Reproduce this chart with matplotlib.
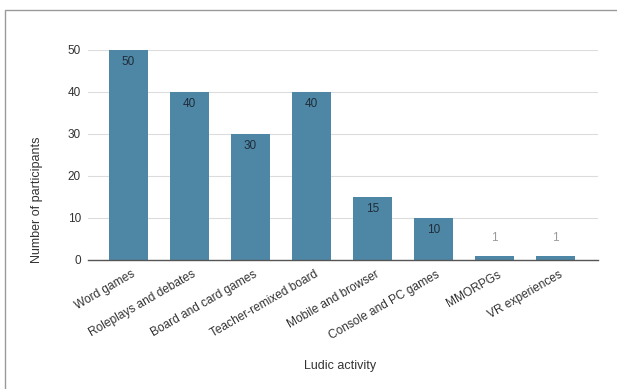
import matplotlib
matplotlib.use("Agg")
from matplotlib import pyplot as plt
from matplotlib.patches import Rectangle
from matplotlib.transforms import ScaledTranslation

activities = ["Word games", "Roleplays and debates", "Board and card games",
              "Teacher-remixed board", "Mobile and browser", "Console and PC games",
              "MMORPGs", "VR experiences"]
participants = [50, 40, 30, 40, 15, 10, 1, 1]
y_ticks = [0, 10, 20, 30, 40, 50]

plt.rcParams['font.family'] = ['Liberation Sans', 'DejaVu Sans']

fig = plt.figure(figsize=(6.17, 3.89), dpi=100)
# outer frame around the chart
fig.patches.append(Rectangle((5 / 617, -0.05), 1.0, 1 - 10 / 389 + 0.05,
                             transform=fig.transFigure, fill=False,
                             edgecolor="#9a9a9a", linewidth=1.0))

ax = fig.add_axes([88 / 617, 1 - 260 / 389, (598 - 88) / 617, 210 / 389])
x = range(len(activities))
bars = ax.bar(x, participants, width=0.64, color="#4e87a5", zorder=2)

for bar, v in zip(bars, participants):
    cx = bar.get_x() + bar.get_width() / 2
    if v >= 5:
        ax.text(cx, v - 2.9, str(v), ha="center", va="center",
                fontsize=8.5, color="#1f2d3a", zorder=3)
    else:
        ax.text(cx, v + 4.2, str(v), ha="center", va="center",
                fontsize=8.5, color="#9a9a9a", zorder=3)

ax.set_xlim(-0.66, 7.7)
ax.set_ylim(0, 50)
ax.set_yticks(y_ticks)
ax.yaxis.grid(True, color="#dcdcdc", linewidth=0.8, zorder=0)
ax.tick_params(axis="y", length=0, pad=5, labelsize=8.5, labelcolor="#333333")
ax.tick_params(axis="x", length=0, pad=6, labelsize=8.6, labelcolor="#333333")
ax.set_xticks(list(x))
ax.set_xticklabels(activities, rotation=30, ha="right", rotation_mode="anchor")
shift = ScaledTranslation(3 / 100, 0, fig.dpi_scale_trans)
for lbl in ax.get_xticklabels():
    lbl.set_transform(lbl.get_transform() + shift)
for side in ["top", "right", "left"]:
    ax.spines[side].set_visible(False)
ax.spines["bottom"].set_color("#555555")
ax.spines["bottom"].set_linewidth(1.0)
ax.spines["bottom"].set_zorder(4)
ax.grid(False, axis="x")

fig.text(37 / 617, 1 - 200 / 389, "Number of participants", rotation=90,
         ha="center", va="center", fontsize=9, color="#333333")
fig.text(340 / 617, 1 - 366 / 389, "Ludic activity", ha="center", va="center",
         fontsize=9, color="#333333")

fig.savefig("out.png", dpi=100)
